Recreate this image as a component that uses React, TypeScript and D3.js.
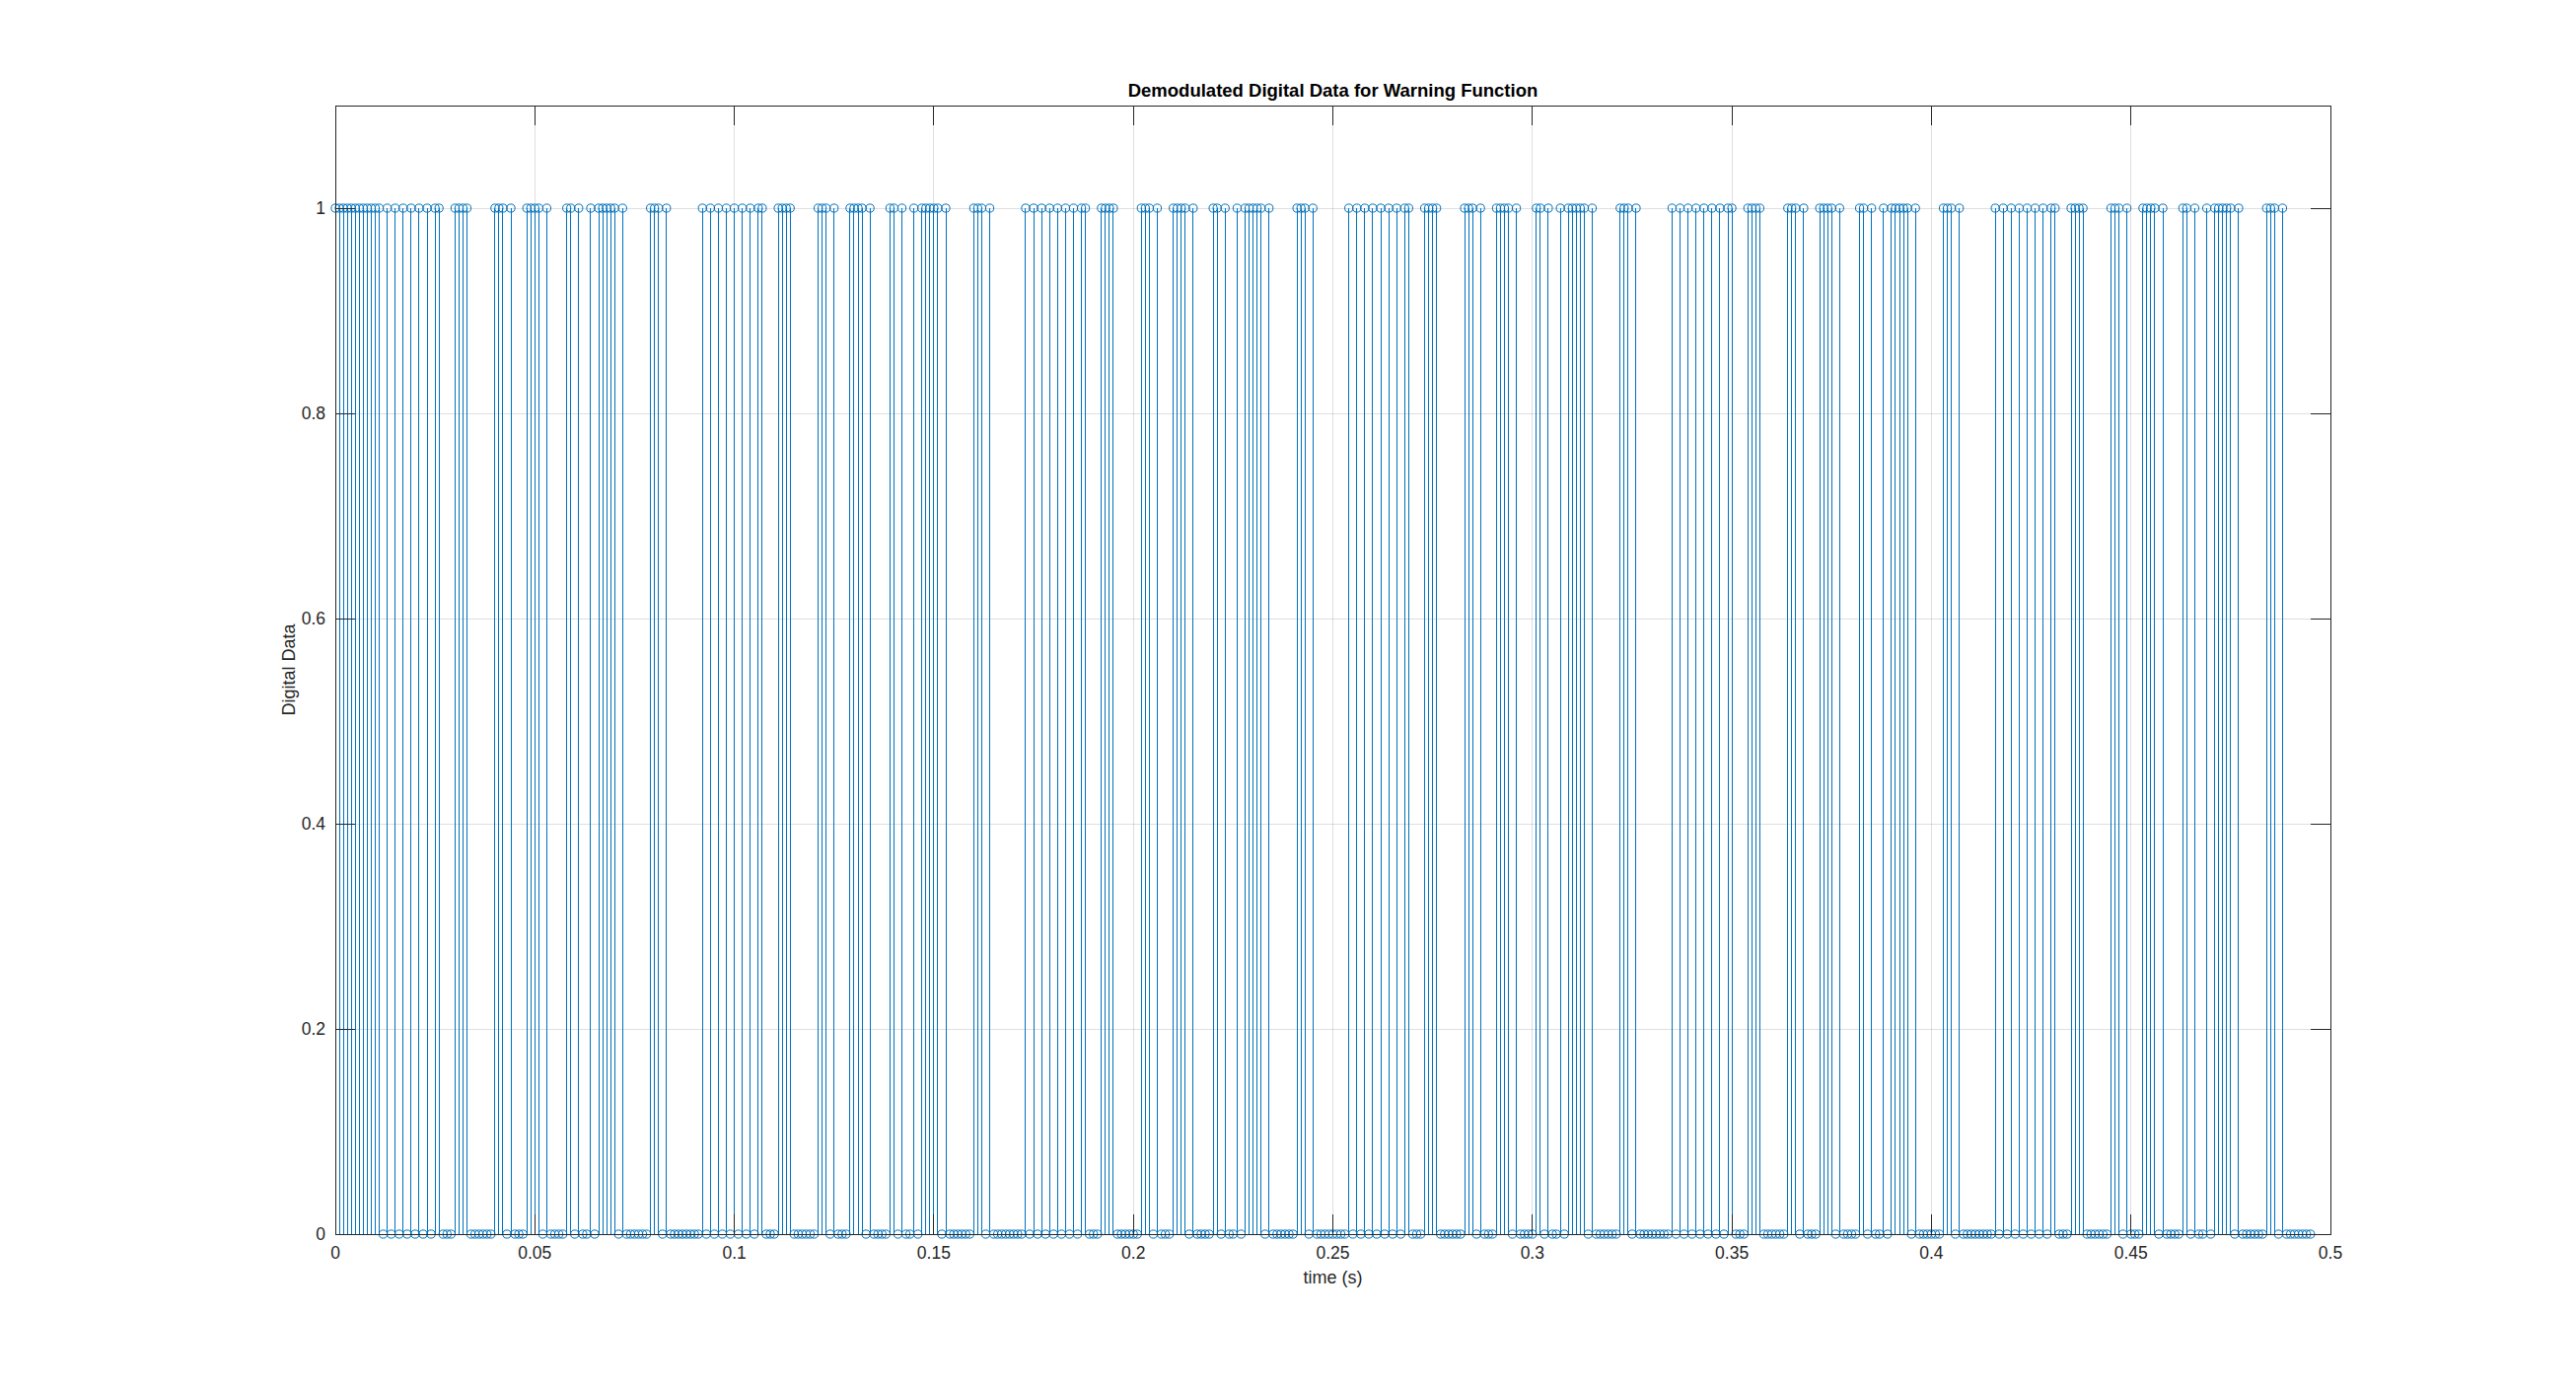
import * as d3 from "d3"

const title = "Demodulated Digital Data for Warning Function"
const xLabel = "time (s)"
const yLabel = "Digital Data"

// sample spacing of the demodulated bit stream (s)
const sampleStep = 0.001

const xTicks = [0, 0.05, 0.1, 0.15, 0.2, 0.25, 0.3, 0.35, 0.4, 0.45, 0.5]
const xTickLabels = ["0", "0.05", "0.1", "0.15", "0.2", "0.25", "0.3", "0.35", "0.4", "0.45", "0.5"]
const yTicks = [0, 0.2, 0.4, 0.6, 0.8, 1]
const yTickLabels = ["0", "0.2", "0.4", "0.6", "0.8", "1"]

// demodulated bits, read sample by sample off the plot (one row per frame)
const bitRows = [
    "11111111111",
    "101010101010101100011110000001110100011110100001101001011111010000001110100000000",
    "101010101010101100011110000001110100011110100001101001011111010000001110100000000",
    "101010101010101100011110000001110100011110100001101001011111010000001110100000000",
    "101010101010101100011110000001110100011110100001101001011111010000001110100000000",
    "101010101010101100011110000001110100011110100001101001011111010000001110100000000",
    "10101010101010110001111000000111010001111010000110100101111101000000111010000000",
]

const bits = bitRows.join("").split("").map(Number)

const W = 2612
const H = 1408
const left = 340
const right = 2363
const top = 107
const bottom = 1251
const tickLen = 20

const axisColor = "#262626"
const stemColor = "#0072BD"
const font = "'Liberation Sans', Arial, Helvetica, sans-serif"

export default function App() {
    const x = d3.scaleLinear().domain([0, 0.5]).range([left, right])
    const y = d3.scaleLinear().domain([0, 1.1]).range([bottom, top])

    return (
        <svg
            width={W}
            height={H}
            viewBox={`0 0 ${W} ${H}`}
            style={{ position: "absolute", left: 0, top: 0, display: "block", background: "#fff" }}
        >
            <rect x={0} y={0} width={W} height={H} fill="#fff" />

            {/* grid */}
            <g stroke={axisColor} strokeOpacity={0.15} shapeRendering="crispEdges">
                {xTicks.map((t) => (
                    <line key={"gx" + t} x1={x(t)} x2={x(t)} y1={top} y2={bottom} />
                ))}
                {yTicks.map((t) => (
                    <line key={"gy" + t} x1={left} x2={right} y1={y(t)} y2={y(t)} />
                ))}
            </g>

            {/* stems */}
            <g stroke={stemColor} strokeWidth={1} shapeRendering="crispEdges">
                {bits.map((b, i) =>
                    b > 0 ? <line key={"s" + i} x1={x(i * sampleStep)} x2={x(i * sampleStep)} y1={y(0)} y2={y(b)} /> : null,
                )}
            </g>

            {/* baseline */}
            <line x1={left} x2={right} y1={y(0)} y2={y(0)} stroke={axisColor} shapeRendering="crispEdges" />

            {/* markers */}
            <g fill="none" stroke={stemColor} strokeWidth={1}>
                {bits.map((b, i) => (
                    <circle key={"m" + i} cx={x(i * sampleStep)} cy={y(b)} r={4.1} />
                ))}
            </g>

            {/* axes box and ticks */}
            <g stroke={axisColor} strokeWidth={1} shapeRendering="crispEdges" fill="none">
                <rect x={left} y={top} width={right - left} height={bottom - top} />
                {xTicks.map((t) => (
                    <g key={"tx" + t}>
                        <line x1={x(t)} x2={x(t)} y1={bottom} y2={bottom - tickLen} />
                        <line x1={x(t)} x2={x(t)} y1={top} y2={top + tickLen} />
                    </g>
                ))}
                {yTicks.map((t) => (
                    <g key={"ty" + t}>
                        <line x1={left} x2={left + tickLen} y1={y(t)} y2={y(t)} />
                        <line x1={right} x2={right - tickLen} y1={y(t)} y2={y(t)} />
                    </g>
                ))}
            </g>

            {/* tick labels */}
            <g fontFamily={font} fontSize={17.5} fill={axisColor}>
                {xTicks.map((t, i) => (
                    <text key={"lx" + t} x={x(t)} y={bottom + 19} dy="0.35em" textAnchor="middle">
                        {xTickLabels[i]}
                    </text>
                ))}
                {yTicks.map((t, i) => (
                    <text key={"ly" + t} x={left - 10} y={y(t)} dy="0.35em" textAnchor="end">
                        {yTickLabels[i]}
                    </text>
                ))}
            </g>

            <text
                x={(left + right) / 2}
                y={1295}
                dy="0.35em"
                textAnchor="middle"
                fontFamily={font}
                fontSize={18}
                fill={axisColor}
            >
                {xLabel}
            </text>
            <text
                transform={`translate(293,${(top + bottom) / 2}) rotate(-90)`}
                dy="0.35em"
                textAnchor="middle"
                fontFamily={font}
                fontSize={18}
                fill={axisColor}
            >
                {yLabel}
            </text>
            <text
                x={(left + right) / 2}
                y={92}
                dy="0.35em"
                textAnchor="middle"
                fontFamily={font}
                fontSize={18.5}
                fontWeight="bold"
                fill="#000"
            >
                {title}
            </text>
        </svg>
    )
}
